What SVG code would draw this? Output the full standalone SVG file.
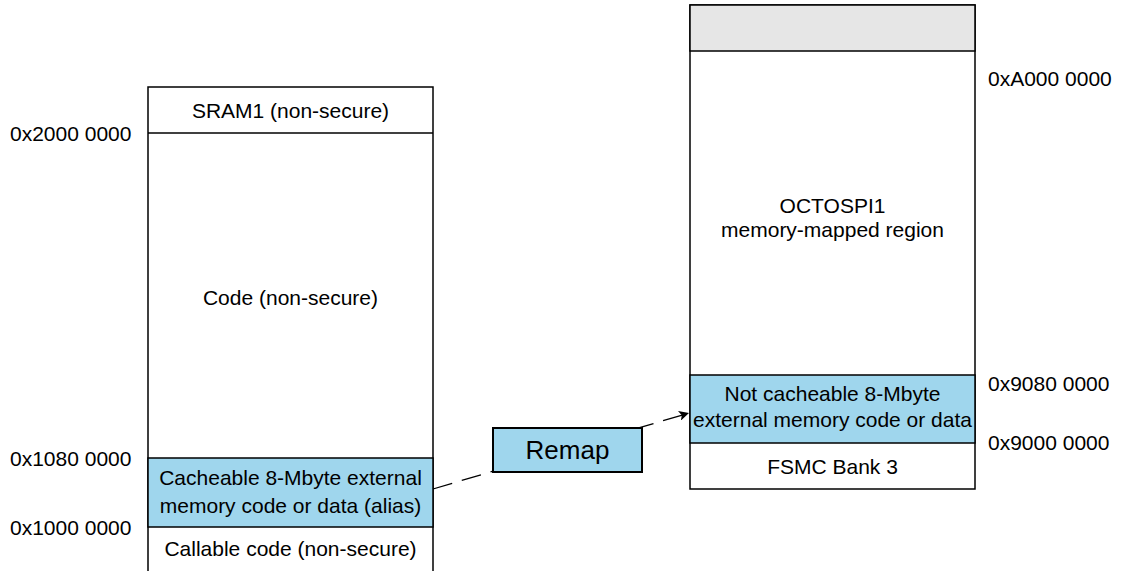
<svg xmlns="http://www.w3.org/2000/svg" width="1125" height="571" viewBox="0 0 1125 571">
  <defs>
    <style>
      .t { font-family: "Liberation Sans", Arial, sans-serif; font-size: 21px; fill: #000; }
      .c { text-anchor: middle; }
      .box { fill: #fff; stroke: #000; stroke-width: 1.5; }
      .blue { fill: #9fd6ed; stroke: #000; stroke-width: 1.5; }
      .gray { fill: #e6e6e6; stroke: #000; stroke-width: 1.5; }
      .sep { stroke: #000; stroke-width: 1.5; }
      .conn { fill: none; stroke: #000; stroke-width: 1.3; stroke-dasharray: 20 10; }
    </style>
    <marker id="arrow" viewBox="0 0 10 10" refX="10" refY="5" markerWidth="10" markerHeight="10" markerUnits="userSpaceOnUse" orient="auto">
      <path d="M0,0 L10,5 L0,10 L2.5,5 Z" fill="#000"/>
    </marker>
  </defs>
  <rect width="1125" height="571" fill="#fff"/>

  <g id="left-map">
    <rect class="box" x="148" y="87" width="285" height="500"/>
    <rect class="blue" x="148" y="458" width="285" height="69"/>
    <line class="sep" x1="148" y1="133" x2="433" y2="133"/>
    <text class="t c" x="290.5" y="118">SRAM1 (non-secure)</text>
    <text class="t c" x="290.5" y="305">Code (non-secure)</text>
    <text class="t c" x="290.5" y="485">Cacheable 8-Mbyte external</text>
    <text class="t c" x="290.5" y="513">memory code or data (alias)</text>
    <text class="t c" x="290.5" y="556">Callable code (non-secure)</text>
  </g>

  <g id="left-addresses">
    <text class="t" x="10" y="141">0x2000 0000</text>
    <text class="t" x="10" y="466">0x1080 0000</text>
    <text class="t" x="10" y="535">0x1000 0000</text>
  </g>

  <g id="right-map">
    <rect class="box" x="690" y="5" width="285" height="484"/>
    <rect class="gray" x="690" y="5" width="285" height="46"/>
    <rect class="blue" x="690" y="375" width="285" height="68"/>
    <text class="t c" x="832.5" y="213">OCTOSPI1</text>
    <text class="t c" x="832.5" y="237">memory-mapped region</text>
    <text class="t c" x="832.5" y="401">Not cacheable 8-Mbyte</text>
    <text class="t c" x="832.5" y="427">external memory code or data</text>
    <text class="t c" x="832.5" y="474">FSMC Bank 3</text>
  </g>

  <g id="right-addresses">
    <text class="t" x="988" y="86">0xA000 0000</text>
    <text class="t" x="988" y="391">0x9080 0000</text>
    <text class="t" x="988" y="450">0x9000 0000</text>
  </g>

  <g id="connectors">
    <line class="conn" x1="433" y1="489" x2="689" y2="413" marker-end="url(#arrow)"/>
  </g>

  <g id="remap">
    <rect x="493" y="428" width="149" height="44" fill="#9fd6ed" stroke="#000" stroke-width="2"/>
    <text class="t c" x="567.5" y="459" style="font-size:26px">Remap</text>
  </g>
</svg>
